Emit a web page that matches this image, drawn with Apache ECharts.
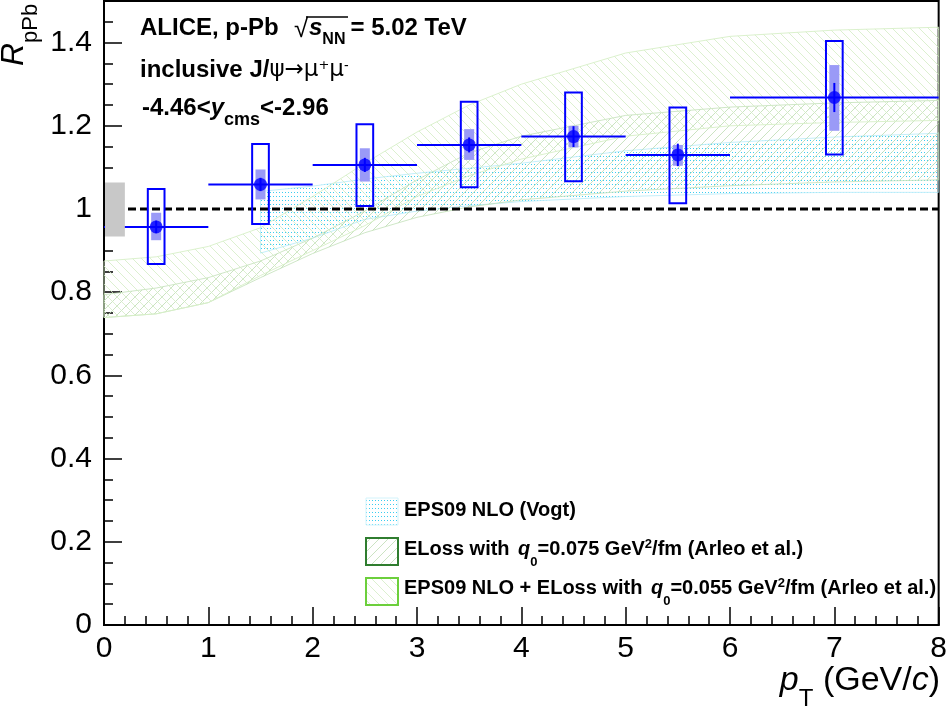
<!DOCTYPE html>
<html>
<head>
<meta charset="utf-8">
<script src="https://cdn.jsdelivr.net/npm/echarts@6/dist/echarts.min.js"></script>
<style>html,body{margin:0;padding:0;background:#fff;}#c{width:950px;height:714px;}</style>
</head>
<body>
<div id="c"></div>
<script>
// ---------------- data ----------------
const pT       = [0.5, 1.5, 2.5, 3.5, 4.5, 5.5, 7];
const binLo    = [0, 1, 2, 3, 4, 5, 6];
const binHi    = [1, 2, 3, 4, 5, 6, 8];
const RpPb     = [0.957, 1.059, 1.106, 1.154, 1.174, 1.130, 1.268];
const statErr  = [0.015, 0.016, 0.017, 0.018, 0.025, 0.027, 0.035];
const sysUncLo = [0.868, 0.964, 1.007, 1.052, 1.067, 1.014, 1.131];
const sysUncHi = [1.048, 1.156, 1.204, 1.258, 1.280, 1.244, 1.404];
const sysCorLo = [0.925, 1.023, 1.066, 1.118, 1.148, 1.104, 1.188];
const sysCorHi = [0.991, 1.095, 1.146, 1.192, 1.200, 1.154, 1.346];
const globalSys = [0.934, 1.064];

// EPS09 NLO (Vogt)
const vogtX  = [1.5, 2, 2.5, 3, 3.5, 4, 5, 6, 7, 8];
const vogtHi = [1.042, 1.055, 1.072, 1.086, 1.098, 1.110, 1.140, 1.160, 1.173, 1.182];
const vogtLo = [0.894, 0.930, 0.975, 0.995, 1.008, 1.018, 1.030, 1.037, 1.040, 1.040];
// ELoss q0 = 0.075
const elossX  = [0, 0.5, 1, 1.5, 2, 2.5, 3, 3.5, 4, 5, 6, 7, 8];
const elossHi = [0.794, 0.810, 0.835, 0.875, 0.930, 0.995, 1.070, 1.135, 1.175, 1.225, 1.245, 1.255, 1.261];
const elossLo = [0.739, 0.748, 0.775, 0.835, 0.893, 0.943, 0.980, 1.005, 1.022, 1.043, 1.056, 1.065, 1.070];
// EPS09 NLO + ELoss q0 = 0.055
const combX  = [0, 0.5, 1, 1.5, 2, 2.5, 3, 3.5, 4, 5, 6, 7, 8];
const combHi = [0.875, 0.885, 0.910, 0.955, 1.030, 1.110, 1.185, 1.250, 1.300, 1.375, 1.415, 1.430, 1.437];
const combLo = [0.739, 0.748, 0.775, 0.840, 0.900, 0.960, 1.030, 1.080, 1.120, 1.175, 1.200, 1.208, 1.213];

const xTickLabels = ['0', '1', '2', '3', '4', '5', '6', '7', '8'];
const yTickLabels = ['0', '0.2', '0.4', '0.6', '0.8', '1', '1.2', '1.4'];

// ---------------- patterns ----------------
function hatch(size, dir, color) {
  const c = document.createElement('canvas'); c.width = c.height = size;
  const g = c.getContext('2d'); g.strokeStyle = color; g.lineWidth = 0.8; g.beginPath();
  if (dir > 0) { g.moveTo(-1, size + 1); g.lineTo(size + 1, -1); g.moveTo(-1, 1); g.lineTo(1, -1); g.moveTo(size - 1, size + 1); g.lineTo(size + 1, size - 1); }
  else { g.moveTo(-1, -1); g.lineTo(size + 1, size + 1); g.moveTo(size - 1, -1); g.lineTo(size + 1, 1); g.moveTo(-1, size - 1); g.lineTo(1, size + 1); }
  g.stroke(); return c;
}
function dots(w, h, color) {
  const c = document.createElement('canvas'); c.width = w; c.height = h;
  const g = c.getContext('2d'); g.fillStyle = color; g.fillRect(0, 0, 1, 1); return c;
}
const patVogt = { image: dots(3, 4, '#3ccdf0'), repeat: 'repeat' };
const patEloss = { image: hatch(9, 1, '#bedcb2'), repeat: 'repeat' };
const patComb = { image: hatch(9, -1, '#d3ecc4'), repeat: 'repeat' };

function band(xs, lo, hi, pattern, edge, z) {
  return {
    type: 'custom', coordinateSystem: 'cartesian2d', silent: true, z: z,
    data: xs.map((x, i) => [x, lo[i], hi[i]]),
    encode: { x: 0, y: [1, 2] },
    renderItem: function (params, api) {
      if (params.dataIndex !== 0) return null;
      const up = xs.map((x, i) => api.coord([x, hi[i]]));
      const dn = xs.map((x, i) => api.coord([x, lo[i]])).reverse();
      return { type: 'polygon', shape: { points: up.concat(dn) },
        style: { fill: pattern, stroke: edge, lineWidth: 1 } };
    }
  };
}

const BOX_UNC_HW = 0.08, BOX_COR_HW = 0.048, GLOBAL_W = 0.2;
const BLUE = '#0000ff';

function rectSeries(lo, hi, hw, style, z) {
  return {
    type: 'custom', coordinateSystem: 'cartesian2d', silent: true, z: z,
    data: pT.map((x, i) => [x, lo[i], hi[i]]),
    encode: { x: 0, y: [1, 2] },
    renderItem: function (params, api) {
      const a = api.coord([api.value(0) - hw, api.value(2)]);
      const b = api.coord([api.value(0) + hw, api.value(1)]);
      return { type: 'rect', shape: { x: a[0], y: a[1], width: b[0] - a[0], height: b[1] - a[1] }, style: style };
    }
  };
}

// ---------------- text layout helper ----------------
const FAM = '"Liberation Sans", Arial, sans-serif';
const SYM = '"DejaVu Sans", sans-serif';
const mctx = document.createElement('canvas').getContext('2d');
function frags(x0, yc, parts, alignRight) {
  let widths = parts.map(p => {
    mctx.font = (p.i ? 'italic ' : '') + (p.b ? 'bold ' : '') + p.s + 'px ' + (p.f || FAM);
    return mctx.measureText(p.t).width + (p.gap || 0);
  });
  let total = widths.reduce((a, b) => a + b, 0);
  let x = alignRight ? x0 - total : x0;
  const els = [];
  parts.forEach((p, k) => {
    els.push({ type: 'text', x: x, y: yc + (p.dy || 0), silent: true,
      style: { text: p.t, fill: '#000', fontFamily: p.f || FAM, fontSize: p.s,
        fontWeight: p.b ? 'bold' : 'normal', fontStyle: p.i ? 'italic' : 'normal',
        align: 'left', verticalAlign: 'middle' } });
    x += widths[k];
  });
  return els;
}

const graphics = [];
// header texts
graphics.push(...frags(140, 28, [{ t: 'ALICE, p-Pb', s: 24, b: 1 }]));
graphics.push(...frags(294, 30, [{ t: '√', s: 26 }]));
graphics.push(...frags(309, 28, [
  { t: 's', s: 24, b: 1, i: 1 }, { t: 'NN', s: 16, b: 1, dy: 12, gap: 5 }, { t: '= 5.02 TeV', s: 24, b: 1 }]));
graphics.push({ type: 'line', silent: true, shape: { x1: 306, y1: 17, x2: 348, y2: 17 }, style: { stroke: '#000', lineWidth: 1.5 } });
graphics.push(...frags(140, 70, [
  { t: 'inclusive J/', s: 24, b: 1 }, { t: 'ψ→μ', s: 23, f: SYM }, { t: '+', s: 13, dy: -4, f: SYM }, { t: 'μ', s: 23, f: SYM }, { t: '-', s: 14, dy: -4 }]));
graphics.push(...frags(142, 108, [
  { t: '-4.46<', s: 24, b: 1 }, { t: 'y', s: 24, b: 1, i: 1 }, { t: 'cms', s: 18, b: 1, dy: 12 }, { t: '<-2.96', s: 24, b: 1 }]));

// axis titles
graphics.push(...frags(940, 681, [
  { t: 'p', s: 34, i: 1 }, { t: 'T', s: 24, dy: 18 }, { t: ' (GeV/', s: 34 }, { t: 'c', s: 34, i: 1 }, { t: ')', s: 34 }], true));
graphics.push({ type: 'group', x: 14, y: 66, rotation: Math.PI / 2, silent: true,
  children: frags(0, 0, [{ t: 'R', s: 32, i: 1 }, { t: 'pPb', s: 22, dy: 17 }]) });

// legend
graphics.push({ type: 'rect', silent: true, shape: { x: 366, y: 498, width: 32, height: 27 }, style: { fill: patVogt, stroke: '#d2f3fb', lineWidth: 1 } });
graphics.push({ type: 'rect', silent: true, shape: { x: 366, y: 538, width: 32, height: 27 }, style: { fill: patEloss, stroke: '#2f7d2f', lineWidth: 2 } });
graphics.push({ type: 'rect', silent: true, shape: { x: 366, y: 578, width: 32, height: 27 }, style: { fill: patComb, stroke: '#6ccf3c', lineWidth: 2 } });
graphics.push(...frags(404, 510, [{ t: 'EPS09 NLO (Vogt)', s: 20, b: 1 }]));
graphics.push(...frags(404, 549, [
  { t: 'ELoss with ', s: 20, b: 1, gap: 3 }, { t: 'q', s: 20, b: 1, i: 1 }, { t: '0', s: 13, b: 1, dy: 13 },
  { t: '=0.075 GeV', s: 20, b: 1 }, { t: '2', s: 13, b: 1, dy: -5 }, { t: '/fm (Arleo et al.)', s: 20, b: 1 }]));
graphics.push(...frags(404, 588, [
  { t: 'EPS09 NLO + ELoss with ', s: 20, b: 1, gap: 3 }, { t: 'q', s: 20, b: 1, i: 1 }, { t: '0', s: 13, b: 1, dy: 13 },
  { t: '=0.055 GeV', s: 20, b: 1 }, { t: '2', s: 13, b: 1, dy: -5 }, { t: '/fm (Arleo et al.)', s: 20, b: 1 }]));

// ---------------- chart ----------------
const chart = echarts.init(document.getElementById('c'), null, { renderer: 'canvas' });
const labelFont = { color: '#000', fontSize: 30, fontFamily: FAM };
chart.setOption({
  animation: false,
  backgroundColor: '#fff',
  grid: { left: 104, right: 10, top: 1, bottom: 89, show: true, borderColor: '#000', borderWidth: 2, backgroundColor: 'transparent' },
  xAxis: {
    type: 'value', min: 0, max: 8, interval: 1,
    axisLine: { lineStyle: { color: '#000', width: 2 } },
    axisTick: { inside: true, length: 18, lineStyle: { color: '#000', width: 1.5 } },
    minorTick: { show: true, splitNumber: 5, length: 9, lineStyle: { color: '#000', width: 1.5 } },
    splitLine: { show: false },
    axisLabel: Object.assign({ margin: 9, formatter: v => xTickLabels[Math.round(v)] || '' }, labelFont)
  },
  yAxis: [{
    type: 'value', min: 0, max: 1.5, interval: 0.2,
    axisLine: { lineStyle: { color: '#000', width: 2 } },
    axisTick: { inside: true, length: 18, lineStyle: { color: '#000', width: 1.5 } },
    splitLine: { show: false },
    axisLabel: Object.assign({ margin: 12, formatter: v => { const k = Math.round(v / 0.2); return Math.abs(k * 0.2 - v) < 1e-6 ? (yTickLabels[k] || '') : ''; } }, labelFont)
  }, {
    type: 'value', min: 0, max: 1.5, interval: 0.05, position: 'left',
    axisLine: { show: false },
    axisTick: { inside: true, length: 9, lineStyle: { color: '#000', width: 1.5 } },
    axisLabel: { show: false }, splitLine: { show: false }
  }],
  graphic: graphics,
  series: [
    band(vogtX, vogtLo, vogtHi, patVogt, 'rgba(170,232,248,0.7)', 1),
    band(elossX, elossLo, elossHi, patEloss, 'rgba(195,225,185,0.8)', 2),
    band(combX, combLo, combHi, patComb, 'rgba(215,240,200,0.9)', 2),
    { type: 'line', data: [[0, 1], [8, 1]], symbol: 'none', silent: true, z: 3,
      lineStyle: { color: '#000', width: 3, type: [8, 4] } },
    rectSeries(sysCorLo, sysCorHi, BOX_COR_HW, { fill: '#9a9af7', stroke: null }, 4),
    rectSeries(sysUncLo, sysUncHi, BOX_UNC_HW, { fill: 'none', stroke: BLUE, lineWidth: 2 }, 5),
    { type: 'custom', coordinateSystem: 'cartesian2d', silent: true, z: 6,
      data: pT.map((x, i) => [binLo[i], binHi[i], RpPb[i]]), encode: { x: [0, 1], y: 2 },
      renderItem: (p, api) => {
        const a = api.coord([api.value(0), api.value(2)]), b = api.coord([api.value(1), api.value(2)]);
        return { type: 'line', shape: { x1: a[0], y1: a[1], x2: b[0], y2: b[1] }, style: { stroke: BLUE, lineWidth: 2 } };
      } },
    { type: 'custom', coordinateSystem: 'cartesian2d', silent: true, z: 6,
      data: pT.map((x, i) => [x, RpPb[i] - statErr[i], RpPb[i] + statErr[i]]), encode: { x: 0, y: [1, 2] },
      renderItem: (p, api) => {
        const a = api.coord([api.value(0), api.value(1)]), b = api.coord([api.value(0), api.value(2)]);
        return { type: 'line', shape: { x1: a[0], y1: a[1], x2: b[0], y2: b[1] }, style: { stroke: BLUE, lineWidth: 2 } };
      } },
    { type: 'custom', coordinateSystem: 'cartesian2d', silent: true, z: 7,
      data: [[0, globalSys[0], globalSys[1]]], encode: { x: 0, y: [1, 2] },
      renderItem: (p, api) => {
        const a = api.coord([api.value(0), api.value(2)]), b = api.coord([api.value(0) + GLOBAL_W, api.value(1)]);
        return { type: 'rect', shape: { x: a[0] + 1, y: a[1], width: b[0] - a[0] - 1, height: b[1] - a[1] }, style: { fill: '#c8c8c8' } };
      } },
    { type: 'scatter', data: pT.map((x, i) => [x, RpPb[i]]), symbol: 'circle', symbolSize: 13, silent: true, z: 8,
      itemStyle: { color: BLUE } }
  ]
});
</script>
</body>
</html>
